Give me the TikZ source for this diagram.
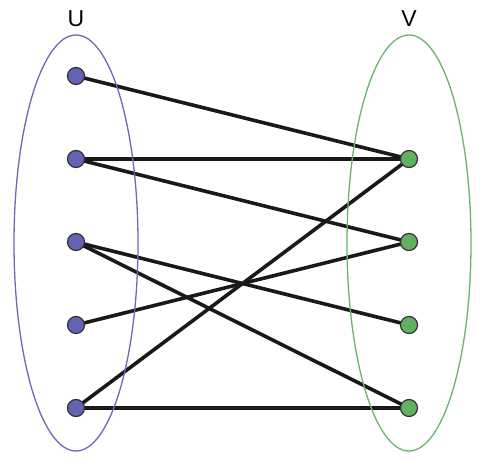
\documentclass[tikz,border=0pt]{standalone}
\usepackage{fontspec}
\setmainfont{Liberation Sans}
\usetikzlibrary{backgrounds}
\definecolor{ublue}{HTML}{6363B3}
\definecolor{ugreen}{HTML}{63B063}
\definecolor{eblue}{HTML}{6A6AB8}
\definecolor{egreen}{HTML}{6AB46A}
\begin{document}
\begin{tikzpicture}[x=1pt,y=-1pt,
  vtx/.style={circle,draw=black!80,line width=1.2pt,minimum size=17pt,inner sep=0pt},
  uvtx/.style={vtx,fill=ublue},
  vvtx/.style={vtx,fill=ugreen},
  edgeln/.style={line width=3.6pt,draw=black!90},
  setell/.style={line width=1.3pt},
  lbl/.style={font=\fontsize{23}{25}\selectfont,inner sep=0pt}]
\useasboundingbox (0,0) rectangle (482,471);
\draw[setell,draw=eblue] (76,243) ellipse [x radius=62, y radius=208];
\draw[setell,draw=egreen] (409,243) ellipse [x radius=62, y radius=208];
\node[lbl] (U) at (76,19) {U};
\node[lbl] (V) at (409,19) {V};
\node[uvtx] (u1) at (76,76) {};
\node[uvtx] (u2) at (76,159) {};
\node[uvtx] (u3) at (76,242) {};
\node[uvtx] (u4) at (76,325) {};
\node[uvtx] (u5) at (76,408) {};
\node[vvtx] (v1) at (409,159) {};
\node[vvtx] (v2) at (409,242) {};
\node[vvtx] (v3) at (409,325) {};
\node[vvtx] (v4) at (409,408) {};
\begin{scope}[on background layer]
\draw[edgeln] (u1.center) -- (v1.center);
\draw[edgeln] (u2.center) -- (v1.center);
\draw[edgeln] (u2.center) -- (v2.center);
\draw[edgeln] (u3.center) -- (v3.center);
\draw[edgeln] (u3.center) -- (v4.center);
\draw[edgeln] (u4.center) -- (v2.center);
\draw[edgeln] (u5.center) -- (v1.center);
\draw[edgeln] (u5.center) -- (v4.center);
\end{scope}
\end{tikzpicture}
\end{document}
